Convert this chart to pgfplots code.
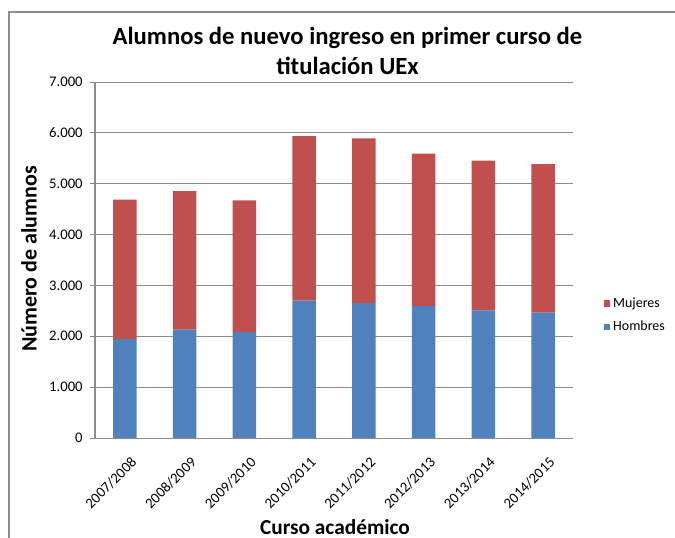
\documentclass[border=0pt]{standalone}
\usepackage{pgfplots}
\pgfplotsset{compat=1.18}
\usepackage{fontspec}
\setmainfont{Carlito}
\definecolor{hblue}{HTML}{4F81BD}
\definecolor{mred}{HTML}{C0504D}
\definecolor{gridc}{HTML}{8C8C8C}
\begin{document}
\begin{tikzpicture}
\begin{scope}[x=0.75pt,y=-0.75pt]
\draw[gridc, line width=0.9pt] (9,538) -- (9,12) -- (675,12);
\node[font=\bfseries\fontsize{18.5}{23}\selectfont, align=center] at (347.5,51) {Alumnos de nuevo ingreso en primer curso de\\titulación UEx};
\node[font=\bfseries\fontsize{16.5}{18}\selectfont, rotate=90] at (29,259) {Número de alumnos};
\node[font=\bfseries\fontsize{16}{18}\selectfont] at (335,527) {Curso académico};
\end{scope}
\begin{axis}[
  at={(95*0.75pt,-438*0.75pt)}, anchor=south west,
  scale only axis, width=358.5pt, height=267pt,
  ybar stacked, bar width=17.5pt,
  xmin=-0.5, xmax=7.5, ymin=0, ymax=7000,
  axis x line*=bottom, axis y line*=left,
  axis line style={gridc, line width=0.75pt},
  ymajorgrids, grid style={gridc, line width=0.75pt},
  ytick={0,1000,...,7000},
  xtick={0,...,7},
  xticklabels={2007/2008,2008/2009,2009/2010,2010/2011,2011/2012,2012/2013,2013/2014,2014/2015},
  minor xtick={-0.5,0.5,...,7.5},
  tick align=outside,
  major tick length=3.75pt, minor tick length=3.75pt,
  ytick style={gridc, line width=0.75pt},
  xtick style={draw=none},
  minor x tick style={gridc, line width=0.75pt},
  yticklabel style={font=\fontsize{11}{12}\selectfont, /pgf/number format/fixed, xshift=-2pt},
  /pgf/number format/assume math mode=true,
  /pgf/number format/1000 sep={.},
  scaled y ticks=false,
  xticklabel style={font=\fontsize{11}{12}\selectfont, rotate=45, anchor=north east, inner sep=1pt, yshift=-8.5pt, xshift=-3pt},
  legend style={at={(1.055,0.345)}, anchor=west, draw=none, fill=none,
    font=\fontsize{10.5}{12}\selectfont, row sep=5pt, legend cell align=left,
    /tikz/every odd column/.style={column sep=0pt}},
  reverse legend,
  legend image code/.code={\fill[#1, draw=none] (0pt,-2.6pt) rectangle (5.2pt,2.6pt);},
]
\addplot[fill=hblue, draw=none] coordinates {(0,1946) (1,2130) (2,2084) (3,2700) (4,2654) (5,2595) (6,2510) (7,2464)};
\addplot[fill=mred, draw=none] coordinates {(0,2739) (1,2726) (2,2588) (3,3237) (4,3237) (5,2995) (6,2942) (7,2923)};
\legend{Hombres, Mujeres}
\end{axis}
\pgfresetboundingbox
\path[use as bounding box] (0,0) rectangle (506.25pt,-403.5pt);
\end{tikzpicture}
\end{document}
